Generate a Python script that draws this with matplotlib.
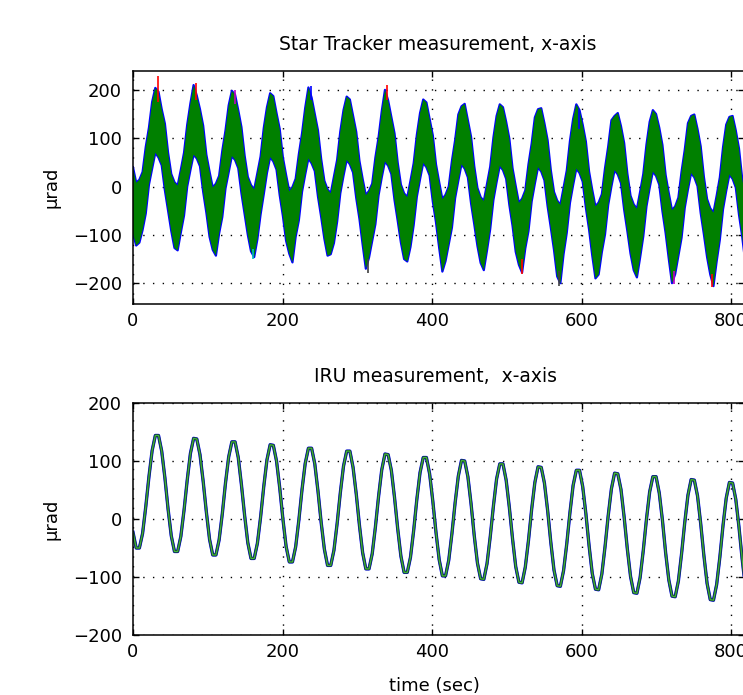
import numpy as np
import matplotlib
matplotlib.use("Agg")
import matplotlib.pyplot as plt

# ---------------- data ----------------
sample_step = 51.2 / 12.0          # seconds between samples
n_samples = 193
time_s = np.arange(n_samples) * sample_step

# IRU measurement (x-axis), microrad
iru = [
    -23, -50, -50, -25, 21, 73, 118, 144, 144, 117, 71, 17,
    -29, -56, -56, -30, 15, 67, 113, 139, 138, 111, 65, 12,
    -35, -62, -62, -36, 9, 62, 107, 133, 133, 106, 59, 6,
    -41, -68, -68, -42, 3, 56, 102, 128, 127, 100, 54, 0,
    -47, -74, -74, -48, -2, 51, 96, 122, 122, 95, 48, -6,
    -52, -80, -80, -54, -8, 45, 91, 117, 117, 89, 43, -11,
    -58, -86, -86, -60, -14, 39, 85, 112, 111, 84, 37, -17,
    -64, -92, -92, -66, -20, 34, 80, 106, 106, 78, 31, -23,
    -70, -98, -98, -71, -25, 28, 74, 101, 100, 73, 26, -29,
    -76, -103, -104, -77, -31, 22, 69, 95, 95, 67, 20, -34,
    -82, -109, -110, -83, -37, 17, 63, 90, 89, 62, 15, -40,
    -88, -115, -116, -89, -43, 11, 58, 84, 84, 56, 9, -46,
    -94, -121, -122, -95, -48, 6, 52, 79, 78, 51, 3, -52,
    -99, -127, -128, -101, -54, 0, 47, 73, 73, 45, -2, -58,
    -105, -133, -134, -107, -60, -6, 41, 68, 67, 40, -8, -63,
    -111, -139, -140, -113, -66, -11, 36, 63, 62, 34, -14, -69,
    -117,
]

# Star tracker measurement band: upper and lower envelope, microrad
st_upper = [
    40, 8, 14, 30, 82, 122, 175, 204, 196, 160, 130, 70,
    26, 9, 2, 35, 70, 128, 172, 210, 188, 160, 126, 66,
    31, -2, 6, 22, 74, 116, 168, 198, 190, 158, 123, 64,
    20, 3, -6, 28, 62, 121, 164, 193, 187, 152, 119, 60,
    24, -10, -1, 16, 67, 110, 163, 205, 184, 150, 116, 57,
    12, -6, -14, 20, 55, 114, 158, 186, 180, 146, 113, 53,
    16, -18, -9, 6, 60, 102, 156, 200, 178, 144, 110, 49,
    4, -14, -22, 12, 48, 107, 152, 180, 174, 140, 106, 46,
    9, -26, -17, 0, 53, 96, 149, 166, 171, 137, 103, 42,
    -3, -22, -30, 5, 41, 101, 146, 170, 164, 134, 99, 38,
    1, -34, -25, -8, 46, 89, 143, 160, 162, 131, 96, 34,
    -11, -29, -38, -3, 33, 94, 140, 170, 158, 128, 93, 31,
    -7, -41, -33, -16, 38, 83, 137, 146, 152, 125, 90, 27,
    -19, -37, -46, -11, 26, 87, 134, 158, 150, 122, 86, 24,
    -14, -49, -41, -23, 31, 76, 131, 146, 149, 119, 83, 20,
    -26, -45, -54, -19, 19, 81, 128, 144, 146, 116, 79, 17,
    -22,
]
st_lower = [
    -98, -122, -116, -90, -56, 4, 37, 70, 60, 44, -8, -50,
    -92, -127, -132, -95, -60, 0, 34, 66, 58, 42, -11, -54,
    -104, -131, -143, -97, -63, -4, 30, 63, 55, 38, -14, -57,
    -100, -134, -146, -109, -58, -16, 28, 61, 52, 35, -18, -61,
    -112, -139, -157, -104, -70, -11, 25, 58, 48, 32, -21, -63,
    -108, -143, -140, -117, -73, -14, 22, 55, 46, 29, -24, -67,
    -120, -170, -147, -112, -78, -18, 19, 52, 43, 26, -28, -71,
    -116, -150, -155, -125, -80, -21, 15, 49, 40, 23, -31, -74,
    -127, -176, -154, -120, -85, -24, 12, 46, 37, 19, -35, -78,
    -123, -158, -173, -132, -88, -28, 9, 43, 34, 16, -38, -81,
    -135, -162, -178, -128, -92, -31, 6, 40, 31, 13, -41, -85,
    -131, -186, -200, -140, -96, -34, 3, 37, 28, 10, -44, -89,
    -143, -190, -182, -136, -99, -38, 0, 34, 25, 7, -48, -92,
    -139, -173, -188, -147, -103, -41, -3, 31, 22, 4, -51, -96,
    -150, -200, -181, -143, -106, -44, -6, 28, 19, 1, -55, -99,
    -146, -182, -206, -155, -110, -47, -9, 25, 16, -2, -58, -103,
    -158,
]

# occasional spikes of the other measurement series
spike_t = [33, 84, 136, 238, 340, 160, 314, 570, 724, 775, 596, 520]
spike_y0 = [175, 180, 170, 180, 178, -130, -150, -175, -175, -180, 120, -150]
spike_y1 = [228, 214, 200, 208, 210, -150, -178, -205, -202, -208, 160, -180]
spike_color = ["red", "red", "magenta", "blue", "red", "cyan", "darkgray",
               "darkgray", "magenta", "red", "blue", "red"]

x_ticks = [0, 200, 400, 600, 800]
y_ticks = [-200, -100, 0, 100, 200]
top_title = "Star Tracker measurement, x-axis"
bottom_title = "IRU measurement,  x-axis"
y_label = "\u03bcrad"
x_label = "time (sec)"

# ---------------- styling ----------------
M_BLUE = (0, 0, 1)
M_GREEN = (0, 0.5, 0)
M_RED = (1, 0, 0)
M_CYAN = (0, 0.75, 0.75)
M_MAG = (0.75, 0, 0.75)
M_DARK = (0.25, 0.25, 0.25)
cmap = {"red": M_RED, "blue": M_BLUE, "magenta": M_MAG, "cyan": M_CYAN,
        "darkgray": M_DARK}

plt.rcParams["font.family"] = ["DejaVu Sans"]
FS = 13
FS_T = 13.5

W, H = 743, 695
fig = plt.figure(figsize=(W / 100, H / 100), dpi=100)
fig.patch.set_facecolor("white")

XMAX = 818


def style_axes(ax, ylim):
    ax.set_xlim(0, XMAX)
    ax.set_ylim(*ylim)
    ax.set_xticks(x_ticks)
    ax.set_yticks(y_ticks)
    ax.tick_params(direction="in", top=True, right=True, length=4.5,
                   width=1.0, labelsize=FS, pad=6)
    ax.tick_params(axis="y", pad=8)
    ax.grid(True, color="black", linestyle=(0, (1, 6)), linewidth=1.0)
    for s in ax.spines.values():
        s.set_linewidth(1.1)
        s.set_color("black")


# top: star tracker
ax1 = fig.add_axes([133 / W, 1 - 304 / H, (XMAX * 0.7475) / W, 233 / H])
ax1.plot(time_s, st_upper, color=M_BLUE, lw=1.6, zorder=1.8)
ax1.plot(time_s, st_lower, color=M_BLUE, lw=1.6, zorder=1.8)
ax1.fill_between(time_s, st_lower, st_upper, facecolor=M_GREEN,
                 edgecolor="none", zorder=2)
ax1.vlines(spike_t, spike_y0, spike_y1, colors=[cmap[c] for c in spike_color],
           lw=1.2, zorder=2.2)
style_axes(ax1, (-243, 239))
for gl in ax1.get_xgridlines() + ax1.get_ygridlines():
    gl.set_zorder(3)

# bottom: IRU
ax2 = fig.add_axes([133 / W, 1 - 635 / H, (XMAX * 0.7475) / W, 232 / H])
ax2.plot(time_s, iru, color=M_BLUE, lw=2.4, zorder=2)
ax2.plot(time_s, iru, color=(0.1, 0.3, 0.15), lw=1.9, zorder=2.1)
ax2.plot(time_s, iru, color=(0.25, 0.7, 0.25), lw=0.8, zorder=2.2)
style_axes(ax2, (-200, 200))

fig.text(438 / W, 1 - 44 / H, top_title, ha="center", va="center",
         fontsize=FS_T)
fig.text(436 / W, 1 - 377 / H, bottom_title, ha="center", va="center",
         fontsize=FS_T)
fig.text(52 / W, 1 - 187 / H, y_label, rotation=90, ha="center", va="center",
         fontsize=FS)
fig.text(52 / W, 1 - 519 / H, y_label, rotation=90, ha="center", va="center",
         fontsize=FS)
fig.text(434 / W, 1 - 686 / H, x_label, ha="center", va="center", fontsize=FS)

fig.savefig("out.png", dpi=100, facecolor="white")
